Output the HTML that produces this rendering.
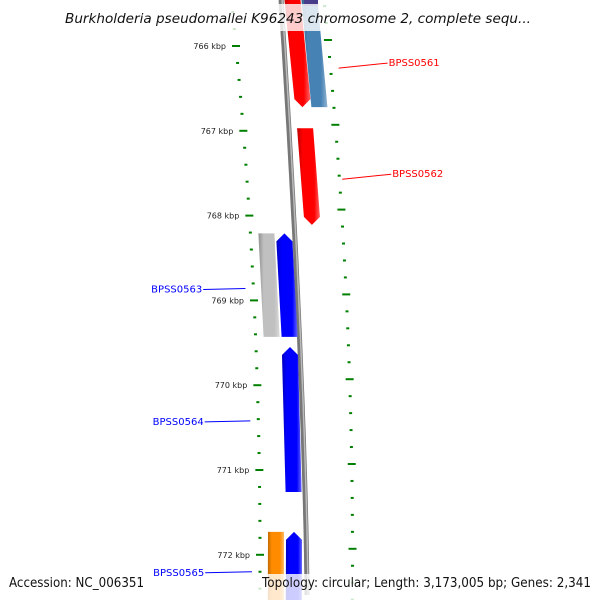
<!DOCTYPE html>
<html><head><meta charset="utf-8"><style>
html,body{margin:0;padding:0;background:#fff;overflow:hidden;}
svg{display:block;font-family:"DejaVu Sans","Liberation Sans",sans-serif;}
</style></head><body>
<svg id="map" width="600" height="600" viewBox="0 0 600 600">
<defs>
<linearGradient id="gshade" x1="0" y1="0" x2="1" y2="0">
<stop offset="0" stop-color="#000" stop-opacity="0.25"/>
<stop offset="0.25" stop-color="#000" stop-opacity="0"/>
<stop offset="0.75" stop-color="#fff" stop-opacity="0"/>
<stop offset="1" stop-color="#fff" stop-opacity="0.4"/>
</linearGradient>
</defs>
<g id="layer"></g>
<rect x="0" y="4" width="600" height="27" fill="#fff" fill-opacity="0.8"/>
<text x="298" y="23" text-anchor="middle" font-size="13" font-style="italic" fill="#111" textLength="466" lengthAdjust="spacingAndGlyphs">Burkholderia pseudomallei K96243 chromosome 2, complete sequ...</text>
<rect x="0" y="574" width="600" height="26" fill="#fff" fill-opacity="0.8"/>
<text x="9" y="587" font-size="13" fill="#111" textLength="135" lengthAdjust="spacingAndGlyphs">Accession: NC_006351</text>
<text x="262" y="587" font-size="13" fill="#111" textLength="329" lengthAdjust="spacingAndGlyphs">Topology: circular; Length: 3,173,005 bp; Genes: 2,341</text>
<g id="labels"></g>
</svg>
<script>
const tickKbp = [766, 767, 768, 769, 770, 771, 772];
const geneNames = ["BPSS0560", "BPSS0561", "BPSS0562", "BPSS0563a", "BPSS0563", "BPSS0564", "BPSS0565a", "BPSS0565"];
const geneStart = [765.4, 765.4, 766.97, 768.21, 768.21, 769.55, 771.73, 771.73];
const geneEnd = [766.72, 766.72, 768.11, 769.43, 769.43, 771.26, 772.9, 772.9];
const geneTrack = [289, 306, 290, 244, 262, 262, 244, 262];
const geneColor = ["#ff0000", "#4682b4", "#ff0000", "#c0c0c0", "#0000ff", "#0000ff", "#ff8c00", "#0000ff"];
const geneDir = [1, 0, 1, 0, -1, -1, 0, -1];
const labels = ["BPSS0561", "BPSS0562", "BPSS0563", "BPSS0564", "BPSS0565"];
const labelKbp = [766.19, 767.5, 768.86, 770.42, 772.2];
const labelSide = [1, 1, -1, -1, -1];
const labelColor = ["#ff0000", "#ff0000", "#0000ff", "#0000ff", "#0000ff"];

const NS = "http://www.w3.org/2000/svg";
const layer = document.getElementById("layer");
const labLayer = document.getElementById("labels");
function yOf(k) { return 46 + (k - 766) * 84.8; }
function curve(y) { const t = (555 - y) / 509; return 24 * (1 - t * t); }
function bbx(y) { const t = Math.max(0, 1 - y / 600); return 281 + 26 * (1 - Math.pow(t, 1.5)); }
function mk(tag, attrs, parent) { const e = document.createElementNS(NS, tag); for (const k in attrs) e.setAttribute(k, attrs[k]); (parent || layer).appendChild(e); return e; }

// backbone
let d = "";
for (let y = -5; y <= 600; y += 10) d += (d ? "L" : "M") + bbx(Math.max(0, y)).toFixed(1) + "," + y;
const bb = mk("path", { d: d, fill: "none", stroke: "#777", "stroke-width": 5 });


const bb2 = mk("path", { d: d, fill: "none", stroke: "#bbb", "stroke-width": 1.5, transform: "translate(1,0)" });



// ticks
for (let k = 765.6; k <= 772.65; k += 0.2) {
  const kr = Math.round(k * 10) / 10;
  const major = Math.abs(kr - Math.round(kr)) < 0.01;
  const yl = yOf(kr), yr = yOf(kr) - 6;
  const xl = 236 + curve(yl), xr = 328.5 + curve(yr);
  const w = major ? 8 : 3;
  const tl = mk("line", { x1: xl - w / 2, y1: yl, x2: xl + w / 2, y2: yl, stroke: "#008000", "stroke-width": 2 });
  
  
  const tr = mk("line", { x1: xr - w / 2, y1: yr, x2: xr + w / 2, y2: yr, stroke: "#008000", "stroke-width": 2 });
  
  
}
tickKbp.forEach(function (k) {
  const y = yOf(k);
  const t = mk("text", { x: 226 + curve(y), y: y + 3, "text-anchor": "end", "font-size": 8, fill: "#222" });
  t.textContent = k + " kbp";
  
  
});

// genes
geneNames.forEach(function (n, i) {
  const y0 = yOf(geneStart[i]), y1 = Math.min(yOf(geneEnd[i]), 605);
  const x0 = geneTrack[i] + curve(y0), x1 = geneTrack[i] + curve(y1), w = 16;
  let pts;
  if (geneDir[i] === 1) pts = [[x0, y0], [x0 + w, y0], [x1 + w, y1 - 8], [x1 + w / 2, y1], [x1, y1 - 8]];
  else if (geneDir[i] === -1) pts = [[x0 + w / 2, y0], [x0 + w, y0 + 8], [x1 + w, y1], [x1, y1], [x0, y0 + 8]];
  else pts = [[x0, y0], [x0 + w, y0], [x1 + w, y1], [x1, y1]];
  const ps = pts.map(function (p) { return p.map(function (v) { return v.toFixed(1); }).join(","); }).join(" ");
  const g = mk("polygon", { points: ps, fill: geneColor[i] });
  
  
  const s = mk("polygon", { points: ps, fill: "url(#gshade)" });
  
  
});
const nv = mk("rect", { x: 304, y: 0, width: 14, height: 6, fill: "#483d8b" });



// labels
labels.forEach(function (n, i) {
  const y = yOf(labelKbp[i]);
  let lx1, ly1, lx2, ly2, tx, ty, anchor;
  if (labelSide[i] === 1) { lx1 = 338 + curve(y) * 0.4; ly1 = y + 6; lx2 = 387 + curve(y) * 0.4; ly2 = y + 1; tx = lx2 + 1; ty = y + 4; anchor = "start"; }
  else { lx1 = 228 + curve(y); ly1 = y; lx2 = 198 + curve(y) * 0.3; ly2 = y + 1; tx = lx2 - 1; ty = y + 4; anchor = "end"; }
  const ln = mk("line", { x1: lx1, y1: ly1, x2: lx2, y2: ly2, stroke: labelColor[i], "stroke-width": 1 }, labelSide[i] === 1 ? layer : layer);
  
  
  const t = mk("text", { x: tx, y: ty, "text-anchor": anchor, "font-size": 10, fill: labelColor[i] }, labLayer);
  t.textContent = n;
  
  
});
</script>
</body></html>
